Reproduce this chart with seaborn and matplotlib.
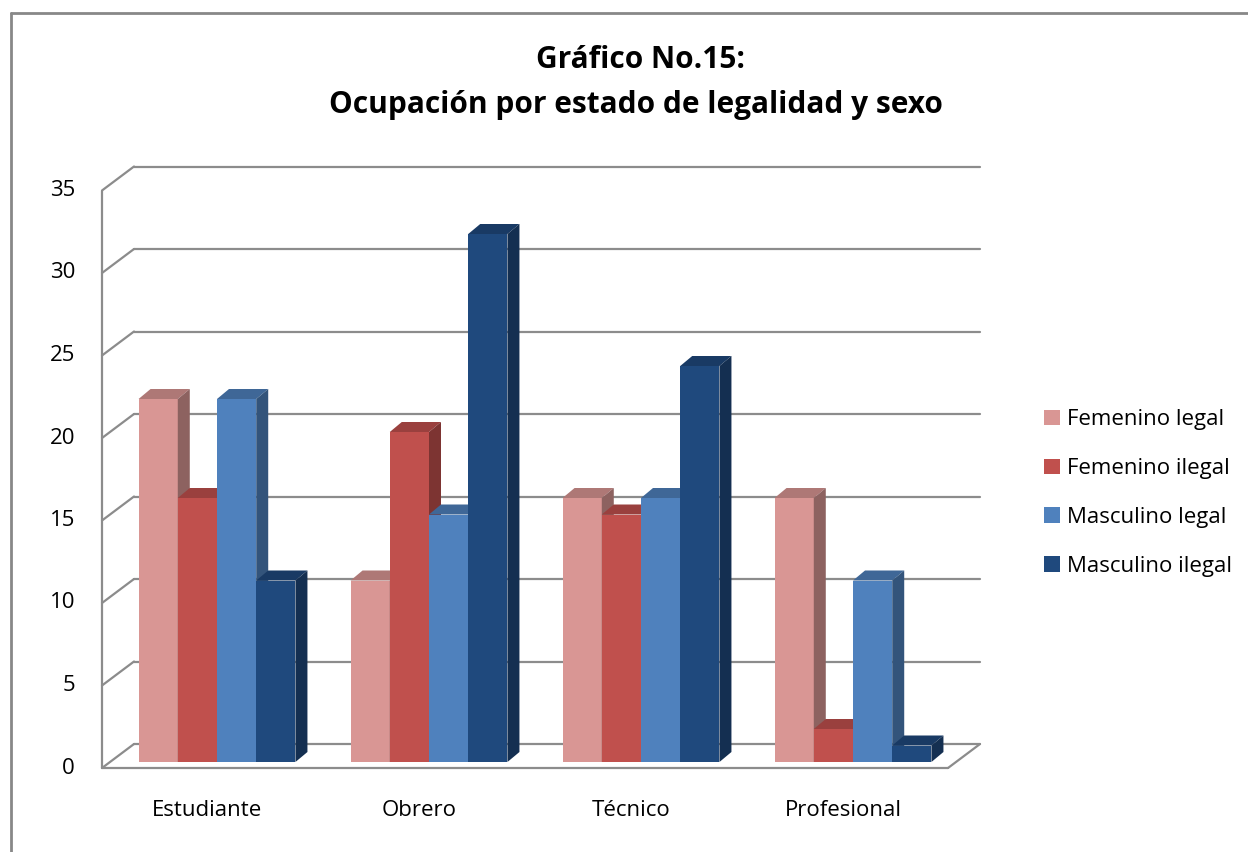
import pandas as pd
import matplotlib.pyplot as plt
import matplotlib.colors as mcolors
import seaborn as sns
from matplotlib.patches import Polygon, Patch
from matplotlib.lines import Line2D

# Data
ocupaciones = ["Estudiante", "Obrero", "Técnico", "Profesional"]
series = ["Femenino legal", "Femenino ilegal", "Masculino legal", "Masculino ilegal"]
femenino_legal = [22, 11, 16, 16]
femenino_ilegal = [16, 20, 15, 2]
masculino_legal = [22, 15, 16, 11]
masculino_ilegal = [11, 32, 24, 1]
colores = ["#D99694", "#C0504D", "#4F81BD", "#1F497D"]
y_ticks = [0, 5, 10, 15, 20, 25, 30, 35]

df = pd.DataFrame({
    "ocupacion": ocupaciones,
    series[0]: femenino_legal,
    series[1]: femenino_ilegal,
    series[2]: masculino_legal,
    series[3]: masculino_ilegal,
}).melt(id_vars="ocupacion", var_name="serie", value_name="valor")

sns.set_style("white")
plt.rcParams["font.family"] = ["Open Sans", "DejaVu Sans"]
plt.rcParams["text.color"] = "black"

W, H = 1248, 852
fig = plt.figure(figsize=(W / 100, H / 100), dpi=100)
ax = fig.add_axes([0, 0, 1, 1])

sns.barplot(data=df, x="ocupacion", y="valor", hue="serie", hue_order=series,
            palette=colores, width=0.74, gap=0, saturation=1, errorbar=None,
            legend=False, linewidth=0, ax=ax)

# pixel <-> data scale (px per unit) and origin of the bar plane
ux, uy = 212.0, 16.5
ox, oy = 217.0, 762.0
ax.set_xlim(-ox / ux, (W - ox) / ux)
ax.set_ylim(-(H - oy) / uy, oy / uy)
ax.axis("off")

# 3D box geometry
fx, fy = -8 / ux, -6 / uy      # front plane offset
bx, by = 24 / ux, 18 / uy      # back wall offset
xl = (102 - ox) / ux - fx      # left edge (bar plane coords)
xr = (948 - ox) / ux - fx
grid_kw = dict(color="#8C8C8C", lw=1.6, zorder=1, solid_capstyle="round")

for v in y_ticks:
    ax.plot([xl + bx, xr + bx], [v + by, v + by], **grid_kw)
    ax.plot([xl + fx, xl + bx], [v + fy, v + by], **grid_kw)
    ax.text(xl + fx - 27 / ux, v + fy, str(v), ha="right", va="center", fontsize=16)
ax.plot([xl + fx, xl + fx], [fy, y_ticks[-1] + fy], **grid_kw)
ax.plot([xl + fx, xr + fx], [fy, fy], **grid_kw)
ax.plot([xr + fx, xr + bx], [fy, by], **grid_kw)

for i, name in enumerate(ocupaciones):
    ax.text(i - 10 / ux, (oy - 810) / uy, name, ha="center", va="center", fontsize=16)

# depth faces for each bar
tdx, tdy = 12 / ux, 10 / uy
bars = sorted([b for c in ax.containers for b in c], key=lambda b: b.get_x())
for i, b in enumerate(bars):
    x, w, h = b.get_x(), b.get_width(), b.get_height()
    rgb = mcolors.to_rgb(b.get_facecolor())
    z = 3 + 0.1 * i
    b.set_zorder(z)
    top = [(x, h), (x + w, h), (x + w + tdx, h + tdy), (x + tdx, h + tdy)]
    side = [(x + w, 0), (x + w, h), (x + w + tdx, h + tdy), (x + w + tdx, tdy)]
    ax.add_patch(Polygon(top, closed=True, color=[c * 0.8 for c in rgb], lw=0, zorder=z + 0.01))
    ax.add_patch(Polygon(side, closed=True, color=[c * 0.65 for c in rgb], lw=0, zorder=z + 0.01))

handles = [Patch(facecolor=c, edgecolor="none") for c in colores]
ax.legend(handles, series, loc="center left", bbox_to_anchor=(1033 / W, 1 - 493 / H),
          frameon=False, fontsize=16, handlelength=0.7, handleheight=0.7,
          handletextpad=0.35, labelspacing=1.25, borderpad=0)

fig.text(640 / W, 1 - 60 / H, "Gráfico No.15:", ha="center", va="center",
         fontsize=21.5, fontweight="bold")
fig.text(636 / W, 1 - 105 / H, "Ocupación por estado de legalidad y sexo", ha="center",
         va="center", fontsize=21.5, fontweight="bold")

# outer chart border
fig.add_artist(Line2D([11 / W, 11 / W], [0, 1 - 13 / H], transform=fig.transFigure,
                      color="#888888", lw=2))
fig.add_artist(Line2D([11 / W, 1], [1 - 13 / H, 1 - 13 / H], transform=fig.transFigure,
                      color="#888888", lw=2))

fig.savefig("out.png", dpi=100)
